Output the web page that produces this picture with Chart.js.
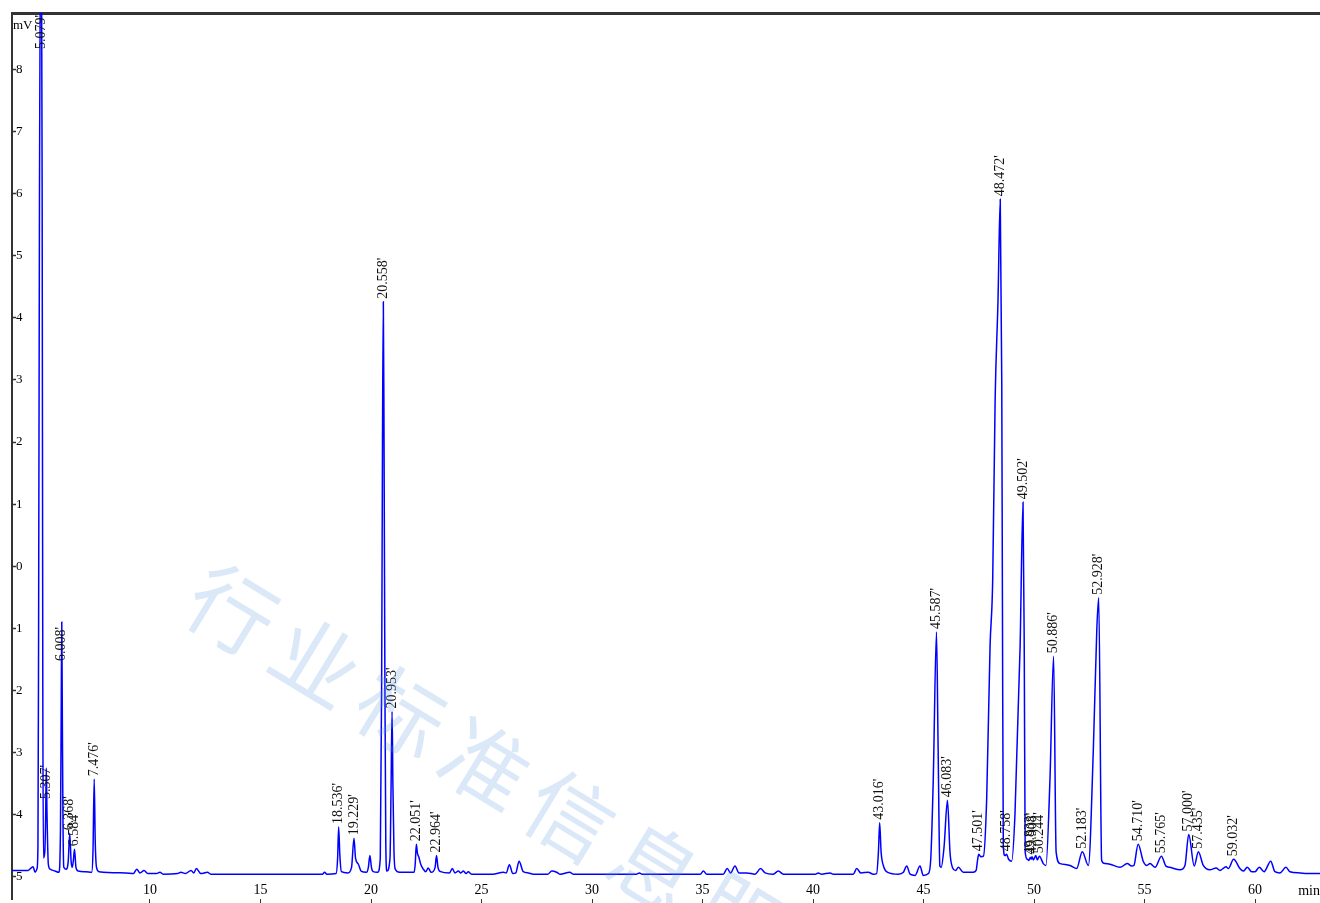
<!DOCTYPE html>
<html>
<head>
<meta charset="utf-8">
<script src="https://cdn.jsdelivr.net/npm/chart.js@4.4.1/dist/chart.umd.min.js"></script>
<style>
    html, body { margin: 0; padding: 0; background: #fff; overflow: hidden; }
    #wrap { width: 1320px; height: 903px; }
</style>
</head>
<body>
<div id="wrap"><canvas id="chromChart" width="1320" height="903"></canvas></div>
<script>
// retention time (min) / detector signal (mV)
var times = [
    3.76, 4.48, 4.71, 4.80, 4.89, 4.93, 4.96, 5.00, 5.079, 5.12,
    5.15, 5.18, 5.24, 5.28, 5.307, 5.34, 5.40, 5.48, 5.70, 5.88,
    5.95, 5.98, 6.008, 6.03, 6.06, 6.10, 6.20, 6.30, 6.368, 6.43,
    6.48, 6.53, 6.584, 6.65, 6.75, 7.10, 7.36, 7.42, 7.476, 7.52,
    7.58, 7.70, 8.90, 9.25, 9.40, 9.55, 9.73, 9.90, 10.30, 10.45,
    10.60, 11.25, 11.40, 11.60, 11.86, 11.98, 12.10, 12.30, 12.60, 12.75,
    17.80, 17.90, 18.00, 18.42, 18.49, 18.536, 18.59, 18.66, 18.95, 19.12,
    19.229, 19.30, 19.43, 19.55, 19.80, 19.88, 19.95, 20.02, 20.10, 20.30,
    20.42, 20.48, 20.52, 20.558, 20.59, 20.63, 20.67, 20.72, 20.86, 20.91,
    20.953, 20.99, 21.04, 21.10, 21.30, 21.95, 22.00, 22.051, 22.10, 22.16,
    22.25, 22.35, 22.48, 22.59, 22.72, 22.90, 22.964, 23.03, 23.15, 23.55,
    23.68, 23.80, 23.95, 24.06, 24.18, 24.30, 24.40, 24.55, 25.50, 25.99,
    26.12, 26.26, 26.42, 26.55, 26.70, 26.89, 27.12, 27.34, 28.00, 28.18,
    28.40, 28.55, 29.00, 29.15, 32.00, 32.14, 32.28, 34.90, 35.04, 35.19,
    35.94, 36.12, 36.27, 36.47, 36.65, 37.00, 37.38, 37.63, 37.83, 38.20,
    38.43, 38.66, 40.10, 40.24, 40.39, 40.77, 40.92, 41.82, 41.98, 42.16,
    42.50, 42.73, 42.88, 42.96, 43.016, 43.08, 43.20, 43.38, 43.86, 44.09,
    44.24, 44.39, 44.62, 44.84, 44.99, 45.22, 45.33, 45.44, 45.587, 45.66,
    45.74, 45.80, 45.93, 46.083, 46.20, 46.32, 46.45, 46.58, 46.80, 47.25,
    47.38, 47.45, 47.501, 47.60, 47.71, 47.86, 48.01, 48.13, 48.24, 48.37,
    48.472, 48.54, 48.57, 48.61, 48.68, 48.758, 48.85, 48.99, 49.14, 49.37,
    49.502, 49.56, 49.60, 49.70, 49.76, 49.833, 49.87, 49.908, 49.97, 50.08,
    50.15, 50.244, 50.42, 50.54, 50.72, 50.886, 51.00, 51.18, 51.63, 51.93,
    52.183, 52.46, 52.68, 52.84, 52.928, 53.06, 53.21, 53.44, 53.89, 54.22,
    54.42, 54.52, 54.710, 54.95, 55.10, 55.25, 55.48, 55.765, 55.97, 56.15,
    56.61, 56.83, 57.000, 57.25, 57.435, 57.66, 57.96, 58.24, 58.42, 58.69,
    58.79, 59.032, 59.32, 59.47, 59.65, 59.85, 60.00, 60.19, 60.41, 60.71,
    60.90, 61.13, 61.40, 61.58, 62.04, 62.34, 62.94
];
var signal = [
    -4.90, -4.90, -4.84, -4.93, -4.87, -4.50, -1.00, 6.00, 11.50, 6.00,
    -2.00, -4.70, -4.60, -4.00, -3.25, -4.00, -4.80, -4.88, -4.91, -4.93,
    -4.20, -2.50, -0.90, -2.20, -4.00, -4.85, -4.88, -4.75, -4.30, -4.75,
    -4.85, -4.75, -4.56, -4.85, -4.91, -4.92, -4.93, -4.60, -3.43, -4.40,
    -4.85, -4.92, -4.94, -4.95, -4.88, -4.94, -4.90, -4.95, -4.95, -4.93,
    -4.96, -4.95, -4.93, -4.95, -4.90, -4.94, -4.87, -4.95, -4.93, -4.96,
    -4.96, -4.93, -4.96, -4.95, -4.70, -4.20, -4.65, -4.92, -4.94, -4.85,
    -4.38, -4.70, -4.80, -4.91, -4.93, -4.85, -4.66, -4.85, -4.92, -4.93,
    -4.70, -2.00, 2.00, 4.26, 2.00, -2.00, -4.50, -4.91, -4.70, -3.50,
    -2.34, -3.50, -4.60, -4.88, -4.93, -4.93, -4.80, -4.48, -4.62, -4.68,
    -4.80, -4.87, -4.92, -4.86, -4.93, -4.85, -4.66, -4.85, -4.92, -4.94,
    -4.87, -4.94, -4.91, -4.94, -4.91, -4.95, -4.92, -4.96, -4.96, -4.93,
    -4.94, -4.81, -4.95, -4.94, -4.75, -4.92, -4.94, -4.96, -4.96, -4.91,
    -4.93, -4.96, -4.93, -4.96, -4.96, -4.94, -4.96, -4.96, -4.91, -4.96,
    -4.96, -4.87, -4.94, -4.83, -4.94, -4.94, -4.96, -4.87, -4.94, -4.96,
    -4.91, -4.96, -4.96, -4.94, -4.96, -4.94, -4.96, -4.96, -4.87, -4.94,
    -4.93, -4.96, -4.95, -4.60, -4.13, -4.60, -4.84, -4.93, -4.96, -4.93,
    -4.83, -4.96, -4.98, -4.83, -4.98, -4.95, -4.70, -3.45, -1.06, -2.91,
    -4.83, -4.85, -4.52, -3.77, -4.62, -4.86, -4.90, -4.85, -4.93, -4.93,
    -4.90, -4.72, -4.64, -4.68, -4.67, -3.72, -1.30, -0.23, 2.67, 4.28,
    5.91, 3.00, -0.50, -4.50, -4.66, -4.64, -4.72, -4.75, -3.98, -1.30,
    1.03, -1.50, -4.60, -4.72, -4.74, -4.69, -4.72, -4.68, -4.73, -4.66,
    -4.73, -4.67, -4.79, -4.82, -3.45, -1.45, -4.60, -4.79, -4.82, -4.87,
    -4.60, -4.82, -3.00, -1.03, -0.51, -4.74, -4.79, -4.80, -4.85, -4.79,
    -4.83, -4.82, -4.48, -4.76, -4.82, -4.79, -4.85, -4.67, -4.83, -4.85,
    -4.89, -4.82, -4.32, -4.83, -4.60, -4.82, -4.89, -4.86, -4.90, -4.84,
    -4.87, -4.72, -4.87, -4.91, -4.85, -4.92, -4.92, -4.85, -4.92, -4.75,
    -4.92, -4.94, -4.85, -4.92, -4.94, -4.95, -4.95
];

// integrated peaks (retention time labels)
var peakLabels = [
    '5.079', '5.307', '6.008', '6.368', '6.584', '7.476',
    '18.536', '19.229', '20.558', '20.953', '22.051', '22.964',
    '43.016', '45.587', '46.083', '47.501', '48.472', '48.758',
    '49.502', '49.833', '49.908', '50.244', '50.886', '52.183',
    '52.928', '54.710', '55.765', '57.000', '57.435', '59.032'
];

var xTickValues = [10, 15, 20, 25, 30, 35, 40, 45, 50, 55, 60];
var yTickValues = [8, 7, 6, 5, 4, 3, 2, 1, 0, -1, -2, -3, -4, -5];
var xRange = [3.756, 62.94];
var yRange = [-5.36, 8.91];

var serif = '"Liberation Serif", "Times New Roman", serif';

// a few labels sit lower than the apex in the print-out
var labelDrop = { '5.307': 34, '6.008': 42 };

var peakLabelPlugin = {
    id: 'peakLabels',
    afterDatasetsDraw: function (chart) {
        var ctx = chart.ctx;
        var xs = chart.scales.x, ys = chart.scales.y, area = chart.chartArea;
        ctx.save();
        ctx.font = '14px ' + serif;
        ctx.fillStyle = '#111';
        ctx.textAlign = 'left';
        ctx.textBaseline = 'middle';
        peakLabels.forEach(function (lbl) {
            var t = parseFloat(lbl);
            var best = 0;
            for (var i = 1; i < times.length; i++) {
                if (Math.abs(times[i] - t) < Math.abs(times[best] - t)) best = i;
            }
            var px = xs.getPixelForValue(times[best]);
            var py = ys.getPixelForValue(signal[best]);
            var text = lbl + "'";
            var w = ctx.measureText(text).width;
            var start = py - 3 + (labelDrop[lbl] || 0);
            if (start - w < area.top + 2) start = area.top + 2 + w;
            ctx.save();
            ctx.translate(px, start);
            ctx.rotate(-Math.PI / 2);
            ctx.fillText(text, 0, 0);
            ctx.restore();
        });
        ctx.restore();
    }
};

var unitsPlugin = {
    id: 'units',
    afterDraw: function (chart) {
        var ctx = chart.ctx, area = chart.chartArea;
        ctx.save();
        ctx.fillStyle = '#000';
        ctx.font = '13px ' + serif;
        ctx.textBaseline = 'middle';
        ctx.textAlign = 'left';
        ctx.fillText('mV', area.left + 1, area.top + 13);
        ctx.textAlign = 'right';
        ctx.font = '14px ' + serif;
        ctx.fillText('min', area.right, chart.height - 12);

        // watermark
        ctx.fillStyle = 'rgba(90, 150, 225, 0.22)';
        ctx.font = '86px "Noto Sans CJK SC"';
        ctx.textAlign = 'center';
        ctx.translate(232, 610);
        ctx.rotate(31.3 * Math.PI / 180);
        var mark = '行业标准信息服务网';
        for (var i = 0; i < mark.length; i++) {
            ctx.fillText(mark[i], i * 99, 0);
        }
        ctx.restore();
    }
};

document.addEventListener('DOMContentLoaded', function () {
    var ctx = document.getElementById('chromChart').getContext('2d');
    var points = times.map(function (t, i) { return { x: t, y: signal[i] }; });

    var chromChart = new Chart(ctx, {
        type: 'line',
        data: {
            datasets: [{
                label: 'signal',
                data: points,
                borderColor: '#0000ff',
                borderWidth: 1.5,
                pointRadius: 0,
                cubicInterpolationMode: 'monotone',
                fill: false,
                clip: 0
            }]
        },
        plugins: [peakLabelPlugin, unitsPlugin],
        options: {
            responsive: false,
            animation: false,
            layout: { padding: { top: 13, left: 0, right: 0, bottom: 0 } },
            plugins: {
                legend: { display: false },
                tooltip: { enabled: false }
            },
            scales: {
                x: {
                    type: 'linear',
                    position: 'bottom',
                    min: xRange[0],
                    max: xRange[1],
                    afterBuildTicks: function (scale) {
                        scale.ticks = xTickValues.map(function (v) { return { value: v }; });
                    },
                    afterFit: function (scale) {
                        scale.height = 4;
                        scale.paddingLeft = 0;
                        scale.paddingRight = 0;
                    },
                    grid: { drawOnChartArea: false, drawTicks: true, tickLength: 8, tickColor: '#333', tickWidth: 1 },
                    border: { display: false },
                    ticks: {
                        mirror: true,
                        padding: 0,
                        autoSkip: false,
                        maxRotation: 0,
                        color: '#000',
                        font: { family: serif, size: 14 }
                    }
                },
                xTop: {
                    type: 'linear',
                    position: 'top',
                    min: xRange[0],
                    max: xRange[1],
                    ticks: { display: false },
                    grid: { display: false, drawTicks: false },
                    border: { display: true, color: '#333', width: 3 }
                },
                y: {
                    type: 'linear',
                    min: yRange[0],
                    max: yRange[1],
                    afterBuildTicks: function (scale) {
                        scale.ticks = yTickValues.map(function (v) { return { value: v }; });
                    },
                    afterFit: function (scale) {
                        scale.width = 12;
                        scale.paddingTop = 0;
                        scale.paddingBottom = 0;
                    },
                    grid: { drawOnChartArea: false, drawTicks: true, tickLength: -4, tickColor: '#333', tickWidth: 1.5 },
                    border: { color: '#333', width: 2 },
                    ticks: {
                        mirror: true,
                        padding: 4,
                        color: '#000',
                        font: { family: serif, size: 13 },
                        callback: function (v) { return Math.abs(v); }
                    }
                }
            }
        }
    });
});
</script>
</body>
</html>
